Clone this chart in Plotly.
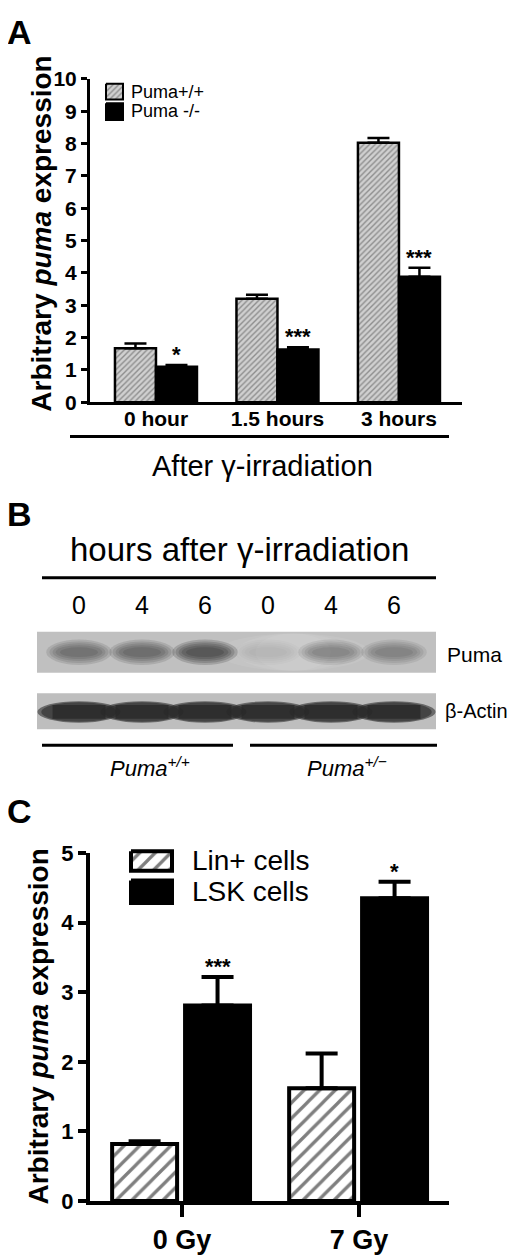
import plotly.graph_objects as go

# page size in pixels
W = 520
H = 1258
# the page body has an 8px margin, so everything is laid out 8px up/left
OFF = 8
FONT = "Liberation Sans, Arial, sans-serif"

# panel A: puma mRNA after irradiation
times = ["0 hour", "1.5 hours", "3 hours"]
wt_a = [1.67, 3.20, 8.02]
wt_a_err = [0.15, 0.12, 0.15]
ko_a = [1.10, 1.63, 3.88]
ko_a_err = [0.05, 0.07, 0.28]
sig_a = ["*", "***", "***"]

# panel B: western blot lanes and band strength (0 = none, 1 = black)
lanes = ["0", "4", "6", "0", "4", "6"]
puma_band = [0.6, 0.65, 0.95, 0.12, 0.42, 0.42]
actin_band = [0.95, 0.95, 0.95, 0.92, 0.95, 0.95]
genotypes = ["<i>Puma<sup>+/+</sup></i>", "<i>Puma<sup>+/\u2212</sup></i>"]

# panel C: Lin+ vs LSK cells
doses = ["0 Gy", "7 Gy"]
lin = [0.82, 1.62]
lin_err = [0.04, 0.50]
lsk = [2.81, 4.35]
lsk_err = [0.41, 0.24]
sig_c = ["***", "*"]


def dom_x(a, b):
    return [(a - OFF) / W, (b - OFF) / W]


def dom_y(top, bottom):
    return [1 - (bottom - OFF) / H, 1 - (top - OFF) / H]


fig = go.Figure()

# ---- panel A bars
bw_a = 0.3375
fig.add_trace(go.Bar(
    x=times, y=wt_a, width=bw_a, offset=-bw_a, name="Puma+/+",
    marker=dict(color="#d0d0d0", line=dict(color="black", width=2.5),
                pattern=dict(shape="/", fgcolor="#4a4a4a", bgcolor="#d0d0d0", size=4, solidity=0.35)),
    error_y=dict(type="data", symmetric=False, array=wt_a_err, arrayminus=[0, 0, 0],
                 color="black", thickness=2.5, width=11),
    xaxis="x", yaxis="y"))
fig.add_trace(go.Bar(
    x=times, y=ko_a, width=bw_a, offset=0, name="Puma -/-",
    marker=dict(color="black", line=dict(color="black", width=2.5)),
    error_y=dict(type="data", symmetric=False, array=ko_a_err, arrayminus=[0, 0, 0],
                 color="black", thickness=2.5, width=11),
    xaxis="x", yaxis="y"))

# ---- panel C bars
bw_c = 0.367
fig.add_trace(go.Bar(
    x=doses, y=lin, width=bw_c, offset=-0.395, name="Lin+ cells",
    marker=dict(color="white", line=dict(color="black", width=4),
                pattern=dict(shape="/", fgcolor="black", bgcolor="white", size=11, solidity=0.3)),
    error_y=dict(type="data", symmetric=False, array=lin_err, arrayminus=[0, 0],
                 color="black", thickness=4, width=16),
    xaxis="x2", yaxis="y2"))
fig.add_trace(go.Bar(
    x=doses, y=lsk, width=bw_c, offset=0.017, name="LSK cells",
    marker=dict(color="black", line=dict(color="black", width=4)),
    error_y=dict(type="data", symmetric=False, array=lsk_err, arrayminus=[0, 0],
                 color="black", thickness=4, width=16),
    xaxis="x2", yaxis="y2"))

# ---- legend boxes drawn on a full page pixel axis (x4/y4)
def box(x0, y0, x1, y1, **kw):
    fig.add_trace(go.Scatter(
        x=[x0, x1, x1, x0, x0], y=[y0, y0, y1, y1, y0], mode="lines", fill="toself",
        xaxis="x4", yaxis="y4", hoverinfo="skip", showlegend=False, **kw))


box(106, 73, 123, 89, line=dict(color="black", width=2), fillcolor="#d0d0d0",
    fillpattern=dict(shape="/", fgcolor="#4a4a4a", bgcolor="#d0d0d0", size=4, solidity=0.35))
box(106, 93, 123, 110, line=dict(color="black", width=2), fillcolor="black")
box(131, 856, 172, 876, line=dict(color="black", width=4), fillcolor="white",
    fillpattern=dict(shape="/", fgcolor="black", bgcolor="white", size=11, solidity=0.3))
box(131, 886, 172, 909, line=dict(color="black", width=4), fillcolor="black")

shapes = []
annotations = []


def text(x, y, t, size, bold=False, **kw):
    annotations.append(dict(
        x=x, y=y, xref="x4", yref="y4", text=t, showarrow=False,
        font=dict(family=FONT, size=size, color="black", weight="bold" if bold else "normal"), **kw))


def hline(x0, x1, y, w=3):
    shapes.append(dict(type="line", xref="x4", yref="y4", x0=x0, x1=x1, y0=y, y1=y,
                       line=dict(color="black", width=w)))


# panel letters
text(19, 20, "A", 34, bold=True)
text(19, 512, "B", 34, bold=True)
text(19, 815, "C", 34, bold=True)

# panel A texts
text(42, 226, "Arbitrary <i>puma</i> expression", 28, bold=True, textangle=-90)
text(129, 81, "Puma+/+", 18, xanchor="left")
text(129, 101, "Puma -/-", 18, xanchor="left")
hline(70, 449, 433)
text(262, 463, "After \u03b3-irradiation", 29)

# significance stars, panel A
for i, s in enumerate(sig_a):
    annotations.append(dict(x=i + bw_a / 2, y=ko_a[i] + ko_a_err[i], xref="x", yref="y",
                            text=s, showarrow=False, yanchor="bottom", yshift=-4,
                            font=dict(family=FONT, size=22, color="black", weight="bold")))

# ---- panel B: blot
text(239, 548, "hours after \u03b3-irradiation", 33)
hline(42, 436, 577)
for i, lab in enumerate(lanes):
    annotations.append(dict(x=i, y=605, xref="x3", yref="y4", text=lab, showarrow=False,
                            font=dict(family=FONT, size=25, color="black")))

# strip backgrounds (y3 runs 0..100 from bottom to top of the blot area)
shapes.append(dict(type="rect", xref="x3 domain", yref="y3", x0=0, x1=1, y0=58, y1=100,
                   fillcolor="#c0c0c0", line=dict(width=0), layer="below"))
shapes.append(dict(type="rect", xref="x3 domain", yref="y3", x0=0, x1=1, y0=0, y1=37,
                   fillcolor="#bebebe", line=dict(width=0), layer="below"))
# lighter middle part of the puma strip
for hw, a in [(1.2, 0.07), (0.9, 0.07), (0.6, 0.07)]:
    shapes.append(dict(type="circle", xref="x3", yref="y3", x0=3.4 - hw, x1=3.4 + hw,
                       y0=60, y1=98, fillcolor="rgba(255,255,255,%.2f)" % a,
                       line=dict(width=0), layer="below"))

# bands, soft edges from a few stacked ellipses
for i in range(len(lanes)):
    k = puma_band[i]
    for half_w, half_h in [(0.52, 13), (0.47, 11), (0.42, 9), (0.37, 7), (0.3, 5)]:
        shapes.append(dict(type="circle", xref="x3", yref="y3",
                           x0=i - half_w, x1=i + half_w, y0=79 - half_h, y1=79 + half_h,
                           fillcolor="rgba(30,30,30,%.3f)" % (0.2 * k), line=dict(width=0)))
    k = actin_band[i]
    for half_w, half_h in [(0.66, 11), (0.6, 10)]:
        shapes.append(dict(type="circle", xref="x3", yref="y3",
                           x0=i - half_w, x1=i + half_w, y0=18 - half_h, y1=18 + half_h,
                           fillcolor="rgba(40,40,40,%.3f)" % (0.6 * k), line=dict(width=0)))
    # flat core so neighbouring actin bands run together
    shapes.append(dict(type="rect", xref="x3", yref="y3", x0=i - 0.42, x1=i + 0.42,
                       y0=11, y1=25, fillcolor="rgba(40,40,40,%.3f)" % (0.8 * k), line=dict(width=0)))

text(445, 655, "Puma", 21, xanchor="left")
text(443, 713, "\u03b2-Actin", 20, xanchor="left")
hline(42, 233, 748)
hline(250, 437, 748)
text(150, 770, genotypes[0], 22)
text(347, 770, genotypes[1], 22)

# ---- panel C texts
text(39, 1035, "Arbitrary <i>puma</i> expression", 28, bold=True, textangle=-90)
text(190, 866, "Lin+ cells", 28, xanchor="left")
text(190, 897, "LSK cells", 28, xanchor="left")
for i, s in enumerate(sig_c):
    annotations.append(dict(x=i + 0.017 + bw_c / 2, y=lsk[i] + lsk_err[i], xref="x2", yref="y2",
                            text=s, showarrow=False, yanchor="bottom", yshift=-4,
                            font=dict(family=FONT, size=22, color="black", weight="bold")))

fig.update_layout(
    width=W, height=H, margin=dict(l=0, r=0, t=0, b=0),
    paper_bgcolor="white", plot_bgcolor="rgba(0,0,0,0)",
    showlegend=False, barmode="overlay",
    shapes=shapes, annotations=annotations,
    xaxis=dict(domain=dom_x(90, 462), anchor="y", type="category", categoryarray=times,
               range=[-0.543, 2.519], showline=True, linecolor="black", linewidth=3,
               ticks="", ticklabelstandoff=-4,
               tickfont=dict(family=FONT, size=21, color="black", weight="bold"),
               showgrid=False, zeroline=False),
    yaxis=dict(domain=dom_y(68, 398), anchor="x", range=[0, 10], dtick=1, showline=True,
               linecolor="black", linewidth=3, ticks="outside", ticklen=6, tickwidth=3,
               tickcolor="black", tickfont=dict(family=FONT, size=21, color="black", weight="bold"),
               showgrid=False, zeroline=False),
    xaxis2=dict(domain=dom_x(90, 449), anchor="y2", type="category", categoryarray=doses,
                range=[-0.52, 1.508], showline=True, linecolor="black", linewidth=4,
                ticks="outside", ticklen=12, tickwidth=4, tickcolor="black",
                tickfont=dict(family=FONT, size=27, color="black", weight="bold"),
                showgrid=False, zeroline=False),
    yaxis2=dict(domain=dom_y(858, 1213), anchor="x2", range=[0, 5], dtick=1, showline=True,
                linecolor="black", linewidth=4, ticks="outside", ticklen=8, tickwidth=4,
                tickcolor="black", tickfont=dict(family=FONT, size=22, color="black", weight="bold"),
                showgrid=False, zeroline=False),
    xaxis3=dict(domain=dom_x(37, 436), anchor="y3", range=[-0.667, 5.667], visible=False),
    yaxis3=dict(domain=dom_y(632, 732), anchor="x3", range=[0, 100], visible=False),
    xaxis4=dict(domain=[0, 1], anchor="y4", range=[OFF, W + OFF], visible=False),
    yaxis4=dict(domain=[0, 1], anchor="x4", range=[H + OFF, OFF], visible=False),
)

fig.write_html("out.html")
